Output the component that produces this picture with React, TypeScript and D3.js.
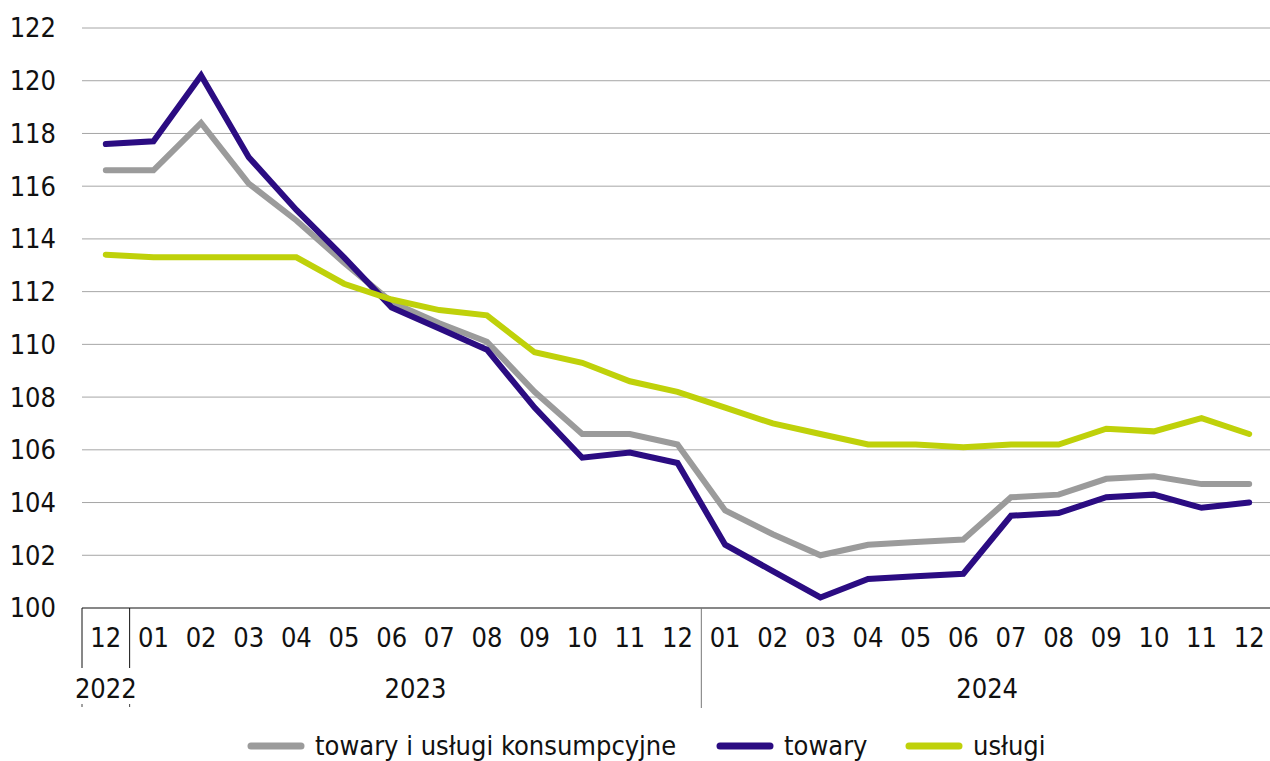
import { useEffect, useRef } from "react";
import * as d3 from "d3";

const MONTHS = ["12", "01", "02", "03", "04", "05", "06", "07", "08", "09", "10", "11", "12",
  "01", "02", "03", "04", "05", "06", "07", "08", "09", "10", "11", "12"];
const YEARS = [
  { label: "2022", from: 0, to: 0 },
  { label: "2023", from: 1, to: 12 },
  { label: "2024", from: 13, to: 24 },
];
const Y_TICKS = [100, 102, 104, 106, 108, 110, 112, 114, 116, 118, 120, 122];

const totalCpi = [116.6, 116.6, 118.4, 116.1, 114.7, 113.1, 111.6, 110.8, 110.1, 108.2, 106.6, 106.6, 106.2,
  103.7, 102.8, 102.0, 102.4, 102.5, 102.6, 104.2, 104.3, 104.9, 105.0, 104.7, 104.7];
const goods = [117.6, 117.7, 120.2, 117.1, 115.1, 113.3, 111.4, 110.6, 109.8, 107.6, 105.7, 105.9, 105.5,
  102.4, 101.4, 100.4, 101.1, 101.2, 101.3, 103.5, 103.6, 104.2, 104.3, 103.8, 104.0];
const services = [113.4, 113.3, 113.3, 113.3, 113.3, 112.3, 111.7, 111.3, 111.1, 109.7, 109.3, 108.6, 108.2,
  107.6, 107.0, 106.6, 106.2, 106.2, 106.1, 106.2, 106.2, 106.8, 106.7, 107.2, 106.6];

const SERIES = [
  { name: "towary i usługi konsumpcyjne", values: totalCpi, color: "#9b9b9b" },
  { name: "towary", values: goods, color: "#2b0c82" },
  { name: "usługi", values: services, color: "#bfd10a" },
];

const FONT = "'Liberation Sans Narrow', 'DejaVu Sans Condensed', 'Noto Sans', sans-serif";
const FS = 27;

export default function App() {
  const ref = useRef<SVGSVGElement>(null);

  useEffect(() => {
    document.body.style.margin = "0";
    const w = 1270, h = 761;
    const svg = d3.select(ref.current).attr("width", w).attr("height", h);
    svg.selectAll("*").remove();
    svg.style("font-family", FONT);

    const left = 82, right = 1273, top = 28, bottom = 608;
    const x = d3.scaleBand<number>().domain(d3.range(MONTHS.length)).range([left, right]);
    const cx = (i: number) => (x(i) as number) + x.bandwidth() / 2;
    const y = d3.scaleLinear().domain([100, 122]).range([bottom, top]);

    // grid
    svg.append("g")
      .selectAll("line")
      .data(Y_TICKS.slice(1))
      .join("line")
      .attr("x1", left).attr("x2", w)
      .attr("y1", (d) => y(d)).attr("y2", (d) => y(d))
      .attr("stroke", "#a6a6a6").attr("stroke-width", 1);

    // y labels
    svg.append("g")
      .selectAll("text")
      .data(Y_TICKS)
      .join("text")
      .attr("x", 56).attr("y", (d) => y(d))
      .attr("dy", "0.35em")
      .attr("text-anchor", "end")
      .attr("font-size", FS)
      .attr("fill", "#111")
      .text((d) => d);

    // baseline
    svg.append("line")
      .attr("x1", left).attr("x2", w)
      .attr("y1", bottom).attr("y2", bottom)
      .attr("stroke", "#111").attr("stroke-width", 1.2);

    // month labels
    svg.append("g")
      .selectAll("text")
      .data(MONTHS)
      .join("text")
      .attr("x", (_, i) => cx(i)).attr("y", 638)
      .attr("dy", "0.35em")
      .attr("text-anchor", "middle")
      .attr("font-size", FS)
      .attr("fill", "#111")
      .text((d) => d);

    // year separators
    const sep = svg.append("g");
    sep.append("line").attr("x1", left).attr("x2", left).attr("y1", bottom).attr("y2", 668)
      .attr("stroke", "#111");
    sep.append("line").attr("x1", x(1) as number).attr("x2", x(1) as number).attr("y1", bottom).attr("y2", 668)
      .attr("stroke", "#111");
    sep.append("line").attr("x1", x(13) as number).attr("x2", x(13) as number).attr("y1", bottom).attr("y2", 708)
      .attr("stroke", "#777");
    [left, x(1) as number].forEach((px) => {
      sep.append("line").attr("x1", px).attr("x2", px).attr("y1", 704).attr("y2", 707)
        .attr("stroke", "#444");
    });

    // year labels
    svg.append("g")
      .selectAll("text")
      .data(YEARS)
      .join("text")
      .attr("x", (d) => d.from === 0 ? cx(0) : ((x(d.from) as number) + (x(d.to) as number) + x.bandwidth()) / 2)
      .attr("y", 689)
      .attr("dy", "0.35em")
      .attr("text-anchor", "middle")
      .attr("font-size", FS)
      .attr("fill", "#111")
      .text((d) => d.label);

    // lines
    const line = d3.line<number>().x((_, i) => cx(i)).y((d) => y(d));
    svg.append("g")
      .selectAll("path")
      .data(SERIES)
      .join("path")
      .attr("d", (d) => line(d.values))
      .attr("fill", "none")
      .attr("stroke", (d) => d.color)
      .attr("stroke-width", 6)
      .attr("stroke-linejoin", "miter")
      .attr("stroke-linecap", "round");

    // legend
    const legendX = [248, 717, 906];
    const lg = svg.append("g")
      .selectAll("g")
      .data(SERIES)
      .join("g")
      .attr("transform", (_, i) => `translate(${legendX[i]},746)`);
    lg.append("line")
      .attr("x1", 3).attr("x2", 53)
      .attr("stroke", (d) => d.color)
      .attr("stroke-width", 7)
      .attr("stroke-linecap", "round");
    lg.append("text")
      .attr("x", 67).attr("dy", "0.35em")
      .attr("font-size", FS)
      .attr("fill", "#111")
      .text((d) => d.name);
  }, []);

  return <svg ref={ref} style={{ display: "block" }} />;
}
